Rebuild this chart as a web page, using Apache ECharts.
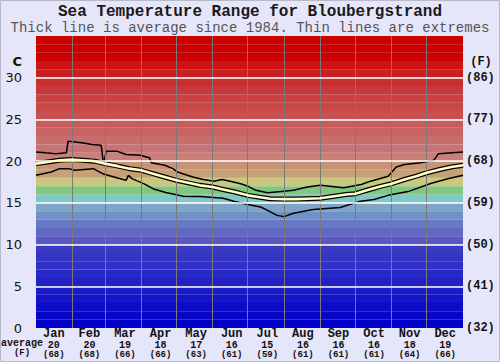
<!DOCTYPE html>
<html><head><meta charset="utf-8">
<script src="https://cdn.jsdelivr.net/npm/echarts@6/dist/echarts.min.js"></script>
<style>html,body{margin:0;padding:0;background:#e6e6fa}#c{width:500px;height:362px}</style>
</head><body><div id="c"></div>
<script>
// ---- data ----
const months = ['Jan','Feb','Mar','Apr','May','Jun','Jul','Aug','Sep','Oct','Nov','Dec'];
const avgC = [20,20,19,18,17,16,15,16,16,16,18,19];
const avgF = ['(68)','(68)','(66)','(66)','(63)','(61)','(59)','(61)','(61)','(61)','(64)','(66)'];
const monthBounds = [31,59,90,120,151,181,212,243,273,304,334];
const leftTicks = ['0','5','10','15','20','25','30',''];
const rightTicks = ['(32)','(41)','(50)','(59)','(68)','(77)','(86)',''];
const maxLine = [[0,21.1],[8,21.0],[17,20.9],[26,21.0],[27.4,22.4],[39,22.2],[48,22.0],[55.7,21.9],[57.8,19.6],[60,21.2],[69,21.2],[77,20.8],[89,20.7],[97,20.4],[98.6,19.8],[110,19.5],[117,19.1],[121,18.7],[134,18.1],[143,17.8],[152,17.6],[159,17.8],[166,17.6],[175,17.3],[181,17.0],[188,16.5],[198,16.2],[212,16.4],[220,16.5],[232,16.9],[243,17.1],[263,16.8],[278,17.2],[286,17.6],[301,18.2],[308,19.3],[315,19.6],[329,19.8],[340,20.1],[344,20.9],[365,21.1]];
const avgLine = [[0,19.7],[10,19.9],[20,20.1],[30,20.2],[40,20.1],[50,20.0],[59,19.7],[70,19.4],[80,19.1],[90,18.9],[100,18.5],[110,18.1],[120,17.7],[130,17.4],[140,17.1],[151,16.9],[160,16.6],[170,16.3],[181,15.9],[190,15.7],[200,15.5],[212,15.45],[222,15.45],[232,15.5],[243,15.55],[255,15.8],[265,16.0],[273,16.1],[285,16.6],[295,17.0],[304,17.3],[315,17.8],[325,18.2],[334,18.6],[345,19.0],[355,19.3],[365,19.5]];
const minLine = [[0,18.3],[13,18.7],[20,19.1],[28,19.1],[33,18.9],[49,19.1],[57,18.5],[69,18.0],[77,17.7],[79,18.3],[82,17.9],[92,17.3],[100,16.7],[111,16.25],[126,15.8],[132,15.75],[140,15.75],[160,15.55],[169,15.2],[181,14.8],[192,14.5],[198,14.1],[206,13.5],[212,13.35],[220,13.75],[237,14.2],[260,14.45],[276,15.15],[289,15.4],[301,15.9],[318,16.35],[338,17.35],[352,17.9],[365,18.3]];

// ---- styles ----
const bandColors = ['#0000c8','#0606c8','#0c0cc8','#1414c8','#1a1ac8','#2222c4','#2828c4','#3030c4','#3434c4','#3a3ac4',
 '#5858c4','#6068c4','#6878c4','#7090c8','#80a4c8','#80c8c8','#80c880','#c8c880','#c8a078','#c89478',
 '#c88078','#c87474','#c86c6c','#c86464','#c85c5c','#c85050','#c84848','#c84040','#c83838','#c83030',
 '#c82020','#cc1414','#cc0000','#cc0000','#cc0000'];
const areas = bandColors.map((c,i)=>[{yAxis:i,itemStyle:{color:c}},{yAxis:i+1}]);
const vlines = monthBounds.map(d=>({xAxis:d,lineStyle:{color:'#7a7a7a',width:1,type:'solid'}}));
const hlines = [5,10,15,20,25,30].map(v=>({yAxis:v,lineStyle:{color:'#ffffff',width:1.5,type:'solid'}}));

const mono = '"Liberation Mono","DejaVu Sans Mono",monospace';
const chart = echarts.init(document.getElementById('c'),null,{renderer:'svg'});
chart.setOption({
  animation:false,
  backgroundColor:'#e6e6fa',
  title:[
    {text:'Sea Temperature Range for Bloubergstrand',left:'center',top:4,padding:0,textStyle:{fontFamily:mono,fontSize:16,fontWeight:'bold',color:'#1a1a1a',lineHeight:16}},
    {text:'Thick line is average since 1984. Thin lines are extremes',left:'center',top:21,padding:0,textStyle:{fontFamily:mono,fontSize:14,fontWeight:'normal',color:'#555',lineHeight:14}}
  ],
  grid:{left:36,right:37,top:36,bottom:34},
  xAxis:[
    {type:'value',min:0,max:365,show:true,axisLine:{show:false},axisTick:{show:false},axisLabel:{show:false},splitLine:{show:false}},
    {type:'category',data:months,position:'bottom',boundaryGap:true,axisLine:{show:false},axisTick:{show:false},splitLine:{show:false},
     axisLabel:{margin:0,interval:0,formatter:(v,i)=>'{m|'+v+'}\n{c|'+avgC[i]+'}\n{f|'+avgF[i]+'}',
       rich:{m:{fontFamily:mono,fontSize:12,fontWeight:'bold',color:'#111',lineHeight:12},
             c:{fontFamily:mono,fontSize:10,fontWeight:'bold',color:'#111',lineHeight:10},
             f:{fontFamily:mono,fontSize:9,fontWeight:'bold',color:'#111',lineHeight:9}}}}
  ],
  yAxis:[
    {type:'value',min:0,max:35,interval:5,position:'left',axisLine:{show:false},axisTick:{show:false},splitLine:{show:false},
     axisLabel:{margin:14,fontFamily:'"DejaVu Sans",sans-serif',fontSize:13,color:'#111',formatter:v=>leftTicks[Math.round(v/5)]}},
    {type:'value',min:0,max:35,interval:5,position:'right',axisLine:{show:false},axisTick:{show:false},splitLine:{show:false},
     axisLabel:{margin:3,fontFamily:mono,fontSize:12,fontWeight:'bold',color:'#111',formatter:v=>rightTicks[Math.round(v/5)]}}
  ],
  graphic:[
    {type:'text',style:{text:'C',x:22,y:61,textAlign:'right',textVerticalAlign:'middle',font:'bold 13px "DejaVu Sans",sans-serif',fill:'#111'}},
    {type:'text',style:{text:'(F)',x:481,y:62,textAlign:'center',textVerticalAlign:'middle',font:'bold 12px '+mono,fill:'#111'}},
    {type:'text',style:{text:'average',x:1,y:343,textAlign:'left',textVerticalAlign:'middle',font:'bold 10px '+mono,fill:'#111'}},
    {type:'text',style:{text:'(F)',x:22,y:353,textAlign:'center',textVerticalAlign:'middle',font:'bold 9px '+mono,fill:'#111'}},
    {type:'rect',shape:{x:0.5,y:0.5,width:499,height:361},style:{fill:'none',stroke:'#b8b8c8',lineWidth:1},silent:true}
  ],
  series:[
    {type:'line',z:1,data:[],xAxisIndex:0,yAxisIndex:0,
     markArea:{silent:true,data:areas},
     markLine:{silent:true,symbol:'none',label:{show:false},data:vlines.concat(hlines)}},
    {type:'line',z:3,xAxisIndex:0,yAxisIndex:0,data:maxLine,showSymbol:false,lineStyle:{color:'#000',width:1.5}},
    {type:'line',z:3,xAxisIndex:0,yAxisIndex:0,data:minLine,showSymbol:false,lineStyle:{color:'#000',width:1.5}},
    {type:'line',z:4,xAxisIndex:0,yAxisIndex:0,data:avgLine,showSymbol:false,lineStyle:{color:'#000',width:5}},
    {type:'line',z:5,xAxisIndex:0,yAxisIndex:0,data:avgLine,showSymbol:false,lineStyle:{color:'#ffffc4',width:2.6}}
  ]
});
</script></body></html>
